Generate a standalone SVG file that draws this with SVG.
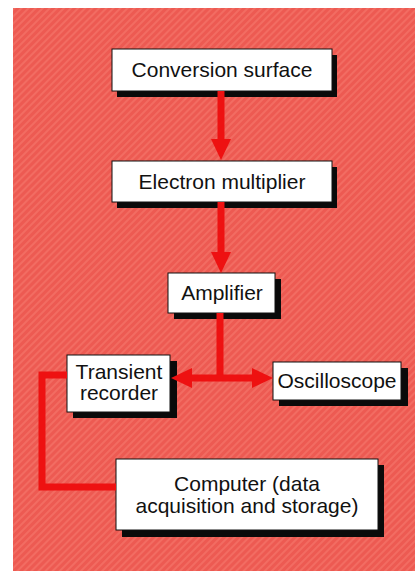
<svg xmlns="http://www.w3.org/2000/svg" width="415" height="571" viewBox="0 0 415 571">
  <defs>
    <pattern id="stripes" patternUnits="userSpaceOnUse" width="5" height="5" patternTransform="rotate(45)">
      <rect width="5" height="5" fill="#ed5a52"/>
      <rect width="2" height="5" fill="#f26c62"/>
    </pattern>
    <marker id="head" markerUnits="userSpaceOnUse" markerWidth="21" markerHeight="20" refX="0" refY="10" orient="auto-start-reverse" viewBox="0 0 21 20">
      <path d="M0,0 L21,10 L0,20 Z" fill="#ee1111"/>
    </marker>
  </defs>
  <style>
    .shadow { fill: #0a0a0a; }
    .box { fill: #ffffff; stroke: #111; stroke-width: 1; }
    .label { font-family: "Liberation Sans", Arial, sans-serif; font-size: 21px; fill: #111; text-anchor: middle; }
    .wire { fill: none; stroke: #ee1111; stroke-width: 7; }
  </style>
  <rect x="0" y="0" width="415" height="571" fill="#ffffff"/>
  <rect x="13" y="8" width="402" height="563" fill="url(#stripes)"/>

  <g id="conversion-surface">
    <rect class="shadow" x="117" y="55" width="220" height="42"/>
    <rect class="box" x="112" y="49" width="220" height="42"/>
    <text class="label" x="222" y="77">Conversion surface</text>
  </g>
  <g id="electron-multiplier">
    <rect class="shadow" x="117" y="167" width="220" height="41"/>
    <rect class="box" x="112" y="161" width="220" height="41"/>
    <text class="label" x="222" y="189">Electron multiplier</text>
  </g>
  <g id="amplifier">
    <rect class="shadow" x="174" y="279" width="107" height="40"/>
    <rect class="box" x="168" y="273" width="107" height="40"/>
    <text class="label" x="222" y="300">Amplifier</text>
  </g>
  <g id="transient-recorder">
    <rect class="shadow" x="73" y="361" width="104" height="57"/>
    <rect class="box" x="67" y="355" width="103" height="57"/>
    <text class="label" x="119" y="379">Transient</text>
    <text class="label" x="119" y="400">recorder</text>
  </g>
  <g id="oscilloscope">
    <rect class="shadow" x="279" y="368" width="129" height="38"/>
    <rect class="box" x="273" y="362" width="128" height="38"/>
    <text class="label" x="337" y="388">Oscilloscope</text>
  </g>
  <g id="computer">
    <rect class="shadow" x="122" y="465" width="262" height="72"/>
    <rect class="box" x="116" y="459" width="262" height="71"/>
    <text class="label" x="247" y="491">Computer (data</text>
    <text class="label" x="247" y="513">acquisition and storage)</text>
  </g>

  <g id="connectors">
    <path class="wire" d="M221,91 V139" marker-end="url(#head)"/>
    <path class="wire" d="M221,202 V252" marker-end="url(#head)"/>
    <path class="wire" d="M220,313 V381"/>
    <path class="wire" d="M192,378 H252" marker-start="url(#head)" marker-end="url(#head)"/>
    <path class="wire" d="M67,375 H42 V487 H116" stroke-width="8"/>
  </g>
</svg>
